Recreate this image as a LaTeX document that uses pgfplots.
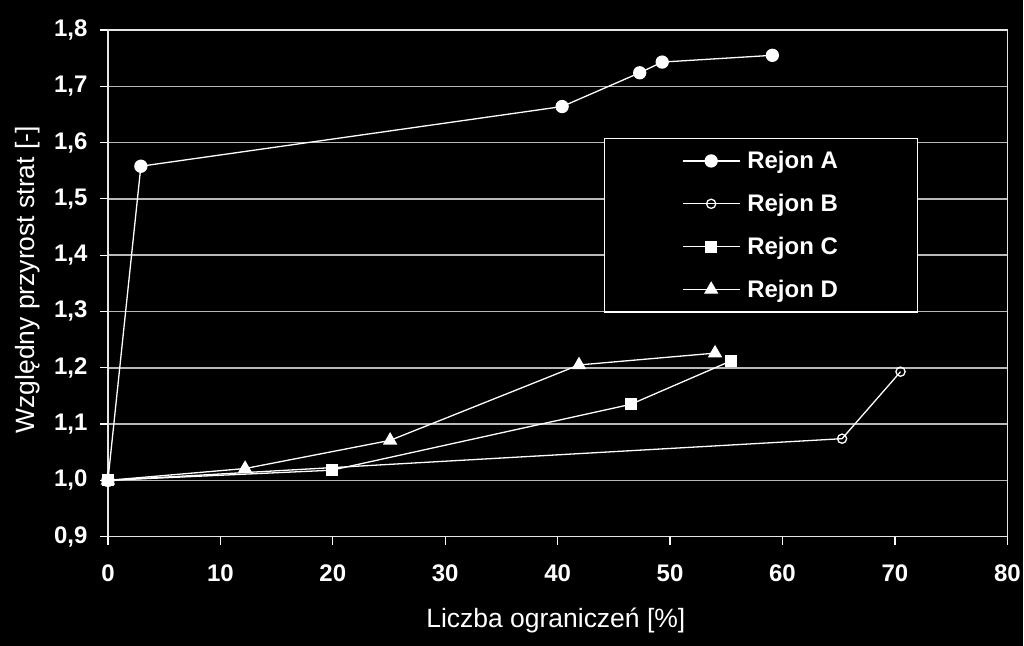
\documentclass[border=0pt]{standalone}
\usepackage{fontspec}
\setmainfont{Liberation Sans}
\usepackage{pgfplots}
\pgfplotsset{compat=1.18}
\definecolor{gridgray}{RGB}{185,185,185}
\begin{document}
\begin{tikzpicture}[x=1pt,y=1pt]
\fill[black] (-108,-109) rectangle (916,537);
\begin{axis}[
  at={(0,0)}, anchor=south west,
  scale only axis, width=900pt, height=507pt,
  xmin=0, xmax=80, ymin=0.9, ymax=1.8,
  xtick={0,10,20,30,40,50,60,70,80},
  ytick={0.9,1.0,1.1,1.2,1.3,1.4,1.5,1.6,1.7,1.8},
  xtick pos=left, ytick pos=left,
  tick align=outside, major tick length=8pt,
  tick style={white, line width=1.2pt},
  axis line style={white!90!black, line width=1.5pt},
  ymajorgrids, grid style={gridgray, line width=1.5pt},
  /pgf/number format/assume math mode=true,
  ticklabel style={font=\bfseries\fontsize{24}{24}\selectfont, text=white},
  x tick label style={yshift=-17pt},
  y tick label style={xshift=-9pt, /pgf/number format/.cd, use comma, fixed, fixed zerofill, precision=1},
  xlabel={Liczba ograniczeń [\%]},
  ylabel={Względny przyrost strat [-]},
  label style={font=\fontsize{26.5}{26.5}\selectfont, text=white},
  xlabel style={at={(axis description cs:0.498,-0.166)}, anchor=center},
  ylabel style={at={(axis description cs:-0.089,0.507)}, anchor=center, rotate=0},
  legend style={at={(axis description cs:0.551,0.787)}, anchor=north west,
    draw=white, fill=black, text=white, line width=1.2pt,
    font=\bfseries\fontsize{24}{24}\selectfont,
    inner xsep=78pt, inner ysep=11pt, row sep=20pt, column sep=5pt},
  legend cell align=left,
  legend image code/.code={\draw[mark repeat=2,mark phase=2] plot coordinates {(0pt,0pt) (28.5pt,0pt) (57pt,0pt)};},
  every axis plot/.append style={white, line width=1.3pt, mark options={solid, line width=1.3pt}},
]
\addplot[mark=*, mark size=6pt] coordinates {
  (0,1.0) (2.93,1.558) (40.4,1.664) (47.3,1.724) (49.3,1.743) (59.1,1.755)};
\addlegendentry{Rejon A}
\addplot[mark=o, mark size=4.6pt, mark options={fill=black}] coordinates {
  (0,1.0) (65.3,1.074) (70.5,1.193)};
\addlegendentry{Rejon B}
\addplot[mark=square*, mark size=5.3pt] coordinates {
  (0,1.0) (19.9,1.018) (46.5,1.135) (55.4,1.212)};
\addlegendentry{Rejon C}
\addplot[mark=triangle*, mark size=7pt] coordinates {
  (0,1.0) (12.2,1.021) (25.1,1.071) (41.9,1.205) (54.0,1.226)};
\addlegendentry{Rejon D}
\end{axis}
\end{tikzpicture}
\end{document}
